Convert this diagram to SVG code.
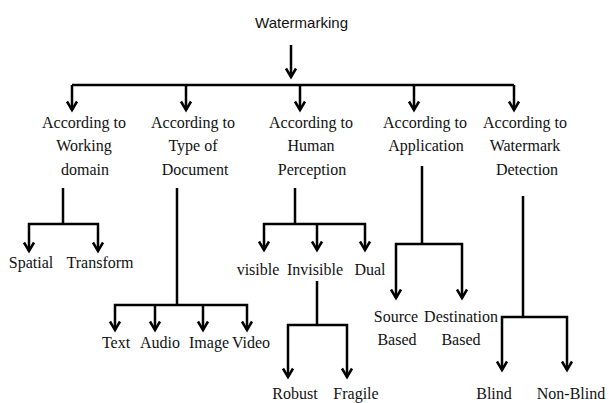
<svg xmlns="http://www.w3.org/2000/svg" width="609" height="403" viewBox="0 0 609 403">
<defs>
<marker id="ah" markerUnits="userSpaceOnUse" markerWidth="14" markerHeight="14" viewBox="-10 -7 12 14" refX="0" refY="0" orient="auto" overflow="visible">
<path d="M-8.5,-5 L0,0 L-8.5,5" fill="none" stroke="#000" stroke-width="2.5" stroke-linejoin="miter"/>
</marker>
<style>
.c{fill:none;stroke:#000;stroke-width:2.5;stroke-linejoin:miter}
.a{marker-end:url(#ah)}
.t{font-family:'Liberation Serif','Times New Roman','DejaVu Serif',serif;font-size:16px;fill:#111;text-anchor:middle}
.s{font-family:'Liberation Sans',Arial,sans-serif;font-size:15px;fill:#111}
</style>
</defs>
<rect width="609" height="403" fill="#fff"/>
<g id="connectors">
<path class="c a" d="M291,45 V77"/>
<path class="c" d="M72,85 H514"/>
<path class="c a" d="M72,85 V110"/>
<path class="c a" d="M186,85 V110"/>
<path class="c a" d="M300,85 V110"/>
<path class="c a" d="M414,85 V110"/>
<path class="c a" d="M514,85 V110"/>
<path class="c" d="M63,188 V224"/>
<path class="c a" d="M63,224 H29 V251"/>
<path class="c a" d="M63,224 H98 V251"/>
<path class="c" d="M177,188 V305"/>
<path class="c a" d="M177,305 H115 V330"/>
<path class="c a" d="M177,305 H247 V330"/>
<path class="c a" d="M155,305 V330"/>
<path class="c a" d="M203,305 V330"/>
<path class="c" d="M295,188 V224"/>
<path class="c a" d="M295,224 H264 V250"/>
<path class="c a" d="M295,224 H365 V250"/>
<path class="c a" d="M317,224 V250"/>
<path class="c" d="M317,281 V325"/>
<path class="c a" d="M317,325 H288 V377"/>
<path class="c a" d="M317,325 H347 V377"/>
<path class="c" d="M422,166 V244"/>
<path class="c a" d="M422,244 H396 V298"/>
<path class="c a" d="M422,244 H462 V298"/>
<path class="c" d="M523,196 V317"/>
<path class="c a" d="M523,317 H502 V370"/>
<path class="c a" d="M523,317 H567 V370"/>
</g>
<g id="watermarking"><text class="s" font-family="Liberation Sans, sans-serif" x="255" y="28" textLength="93" lengthAdjust="spacingAndGlyphs">Watermarking</text></g>
<g font-family="Liberation Serif, Times New Roman, serif">
<g id="working-domain"><text class="t" x="84" y="128">According to</text><text class="t" x="84" y="151">Working</text><text class="t" x="85" y="175">domain</text></g>
<g id="type-of-document"><text class="t" x="193" y="128">According to</text><text class="t" x="193" y="151">Type of</text><text class="t" x="195" y="175">Document</text></g>
<g id="human-perception"><text class="t" x="311" y="128">According to</text><text class="t" x="311" y="151">Human</text><text class="t" x="312" y="175">Perception</text></g>
<g id="application"><text class="t" x="425" y="128">According to</text><text class="t" x="426" y="151">Application</text></g>
<g id="watermark-detection"><text class="t" x="525" y="128">According to</text><text class="t" x="525" y="151">Watermark</text><text class="t" x="527" y="175">Detection</text></g>
<g id="spatial"><text class="t" x="31" y="268">Spatial</text></g>
<g id="transform"><text class="t" x="100" y="268">Transform</text></g>
<g id="text"><text class="t" x="116" y="348">Text</text></g>
<g id="audio"><text class="t" x="160" y="348">Audio</text></g>
<g id="image"><text class="t" x="209" y="348">Image</text></g>
<g id="video"><text class="t" x="251" y="348">Video</text></g>
<g id="visible"><text class="t" x="258" y="275">visible</text></g>
<g id="invisible"><text class="t" x="315" y="275">Invisible</text></g>
<g id="dual"><text class="t" x="370" y="275">Dual</text></g>
<g id="robust"><text class="t" x="295" y="399">Robust</text></g>
<g id="fragile"><text class="t" x="356" y="399">Fragile</text></g>
<g id="source-based"><text class="t" x="396" y="322">Source</text><text class="t" x="397" y="345">Based</text></g>
<g id="destination-based"><text class="t" x="461" y="322">Destination</text><text class="t" x="461" y="345">Based</text></g>
<g id="blind"><text class="t" x="494" y="399">Blind</text></g>
<g id="non-blind"><text class="t" x="571" y="399">Non-Blind</text></g>
</g>
</svg>
